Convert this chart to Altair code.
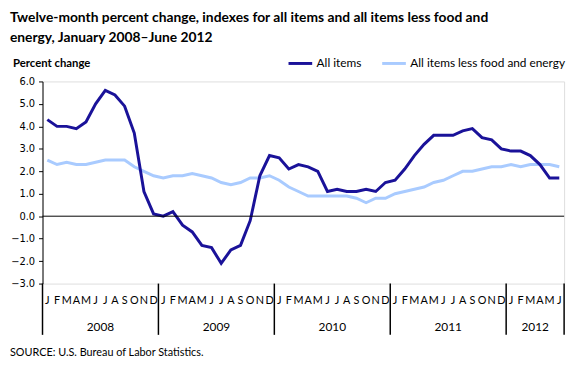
import altair as alt
import pandas as pd

months = ["J", "F", "M", "A", "M", "J", "J", "A", "S", "O", "N", "D"]
years = ["2008", "2009", "2010", "2011", "2012"]
year_start = [0, 12, 24, 36, 48]
year_end = [12, 24, 36, 48, 54]

all_items = [
    4.3, 4.0, 4.0, 3.9, 4.2, 5.0, 5.6, 5.4, 4.9, 3.7, 1.1, 0.1,
    0.0, 0.2, -0.4, -0.7, -1.3, -1.4, -2.1, -1.5, -1.3, -0.2, 1.8, 2.7,
    2.6, 2.1, 2.3, 2.2, 2.0, 1.1, 1.2, 1.1, 1.1, 1.2, 1.1, 1.5,
    1.6, 2.1, 2.7, 3.2, 3.6, 3.6, 3.6, 3.8, 3.9, 3.5, 3.4, 3.0,
    2.9, 2.9, 2.7, 2.3, 1.7, 1.7,
]
core = [
    2.5, 2.3, 2.4, 2.3, 2.3, 2.4, 2.5, 2.5, 2.5, 2.2, 2.0, 1.8,
    1.7, 1.8, 1.8, 1.9, 1.8, 1.7, 1.5, 1.4, 1.5, 1.7, 1.7, 1.8,
    1.6, 1.3, 1.1, 0.9, 0.9, 0.9, 0.9, 0.9, 0.8, 0.6, 0.8, 0.8,
    1.0, 1.1, 1.2, 1.3, 1.5, 1.6, 1.8, 2.0, 2.0, 2.1, 2.2, 2.2,
    2.3, 2.2, 2.3, 2.3, 2.3, 2.2,
]
series_names = ["All items", "All items less food and energy"]
series_colors = ["#1a1299", "#a9cbff"]
y_ticks = [-3, -2, -1, 0, 1, 2, 3, 4, 5, 6]

n = len(all_items)
rows = []
for i in range(n):
    rows.append({"t": i + 0.5, "value": core[i], "series": series_names[1]})
for i in range(n):
    rows.append({"t": i + 0.5, "value": all_items[i], "series": series_names[0]})
df = pd.DataFrame(rows)

month_df = pd.DataFrame({"t": [i + 0.5 for i in range(n)],
                         "label": [months[i % 12] for i in range(n)]})
sep_df = pd.DataFrame({"t": year_start + [year_end[-1]]})
year_df = pd.DataFrame({"t": [(s + e) / 2 for s, e in zip(year_start, year_end)],
                        "label": years})

W, H = 529, 205
xscale = alt.Scale(domain=[0, n], nice=False, zero=False)
yscale = alt.Scale(domain=[-3, 6], nice=False)
FONT = "Lato"

yaxis = alt.Axis(values=y_ticks, format=".1f", title=None, grid=False,
                 domainColor="black", tickColor="black", tickSize=4,
                 labelFont="DejaVu Sans", labelFontSize=10, labelColor="black",
                 labelPadding=4, labelOverlap=False, labelFlush=False,
                 labelBound=False)

color = alt.Color("series:N",
                  scale=alt.Scale(domain=series_names, range=series_colors),
                  legend=alt.Legend(title=None, orient="none", direction="horizontal",
                                    legendX=248, legendY=-32, symbolType="stroke",
                                    symbolSize=576, symbolStrokeWidth=3,
                                    labelFont=FONT, labelFontSize=12, labelColor="black",
                                    labelLimit=400,
                                    labelOffset=3, columnPadding=14, columns=2))

base = alt.Chart(df)

light = base.transform_filter(alt.datum.series == series_names[1]).mark_line(strokeWidth=3).encode(
    x=alt.X("t:Q", scale=xscale, axis=None),
    y=alt.Y("value:Q", scale=yscale, axis=yaxis),
    color=color,
)
dark = base.transform_filter(alt.datum.series == series_names[0]).mark_line(strokeWidth=3).encode(
    x=alt.X("t:Q", scale=xscale, axis=None),
    y=alt.Y("value:Q", scale=yscale, axis=yaxis),
    color=color,
)

zero = alt.Chart(pd.DataFrame({"v": [0]})).mark_rule(color="black", strokeWidth=1).encode(
    y=alt.Y("v:Q", scale=yscale, axis=yaxis)
)

month_text = alt.Chart(month_df).mark_text(font=FONT, fontSize=11, color="black",
                                           baseline="middle").encode(
    x=alt.X("t:Q", scale=xscale, axis=None), y=alt.value(223), text="label:N"
)
seps = alt.Chart(sep_df).mark_rule(color="black", strokeWidth=1.5).encode(
    x=alt.X("t:Q", scale=xscale, axis=None), y=alt.value(205), y2=alt.value(257)
)
year_text = alt.Chart(year_df).mark_text(font=FONT, fontSize=12, color="black",
                                         baseline="middle").encode(
    x=alt.X("t:Q", scale=xscale, axis=None), y=alt.value(249), text="label:N"
)

title_df = pd.DataFrame({"line": [
    "Twelve-month percent change, indexes for all items and all items less food and",
    "energy, January 2008\u2013June 2012"], "yy": [-64, -44]})
title = alt.Chart(title_df).mark_text(font=FONT, fontSize=14, fontWeight="bold",
                                      align="left", baseline="middle", color="black").encode(
    x=alt.value(-33), y=alt.Y("yy:Q", scale=None), text="line:N"
)
ylab = alt.Chart(pd.DataFrame({"s": ["Percent change"]})).mark_text(
    font=FONT, fontSize=11.5, fontWeight="bold", align="left", baseline="middle", color="black"
).encode(x=alt.value(-30), y=alt.value(-18), text="s:N")
source = alt.Chart(pd.DataFrame({"s": ["SOURCE: U.S. Bureau of Labor Statistics."]})).mark_text(
    font=FONT, fontSize=11, align="left", baseline="middle", color="black"
).encode(x=alt.value(-33), y=alt.value(275), text="s:N")

chart = alt.layer(light, dark, zero, month_text, seps, year_text, title, ylab, source).properties(
    width=W, height=H,
    autosize=alt.AutoSizeParams(type="none"),
    padding={"left": 35, "top": 72, "right": 8, "bottom": 74},
).configure_view(stroke="#d9d9d9", strokeWidth=1).configure_axis(
    labelOverlap=False
).configure(background="white")

chart.save("out.html", embed_options={"renderer": "svg", "actions": False})
